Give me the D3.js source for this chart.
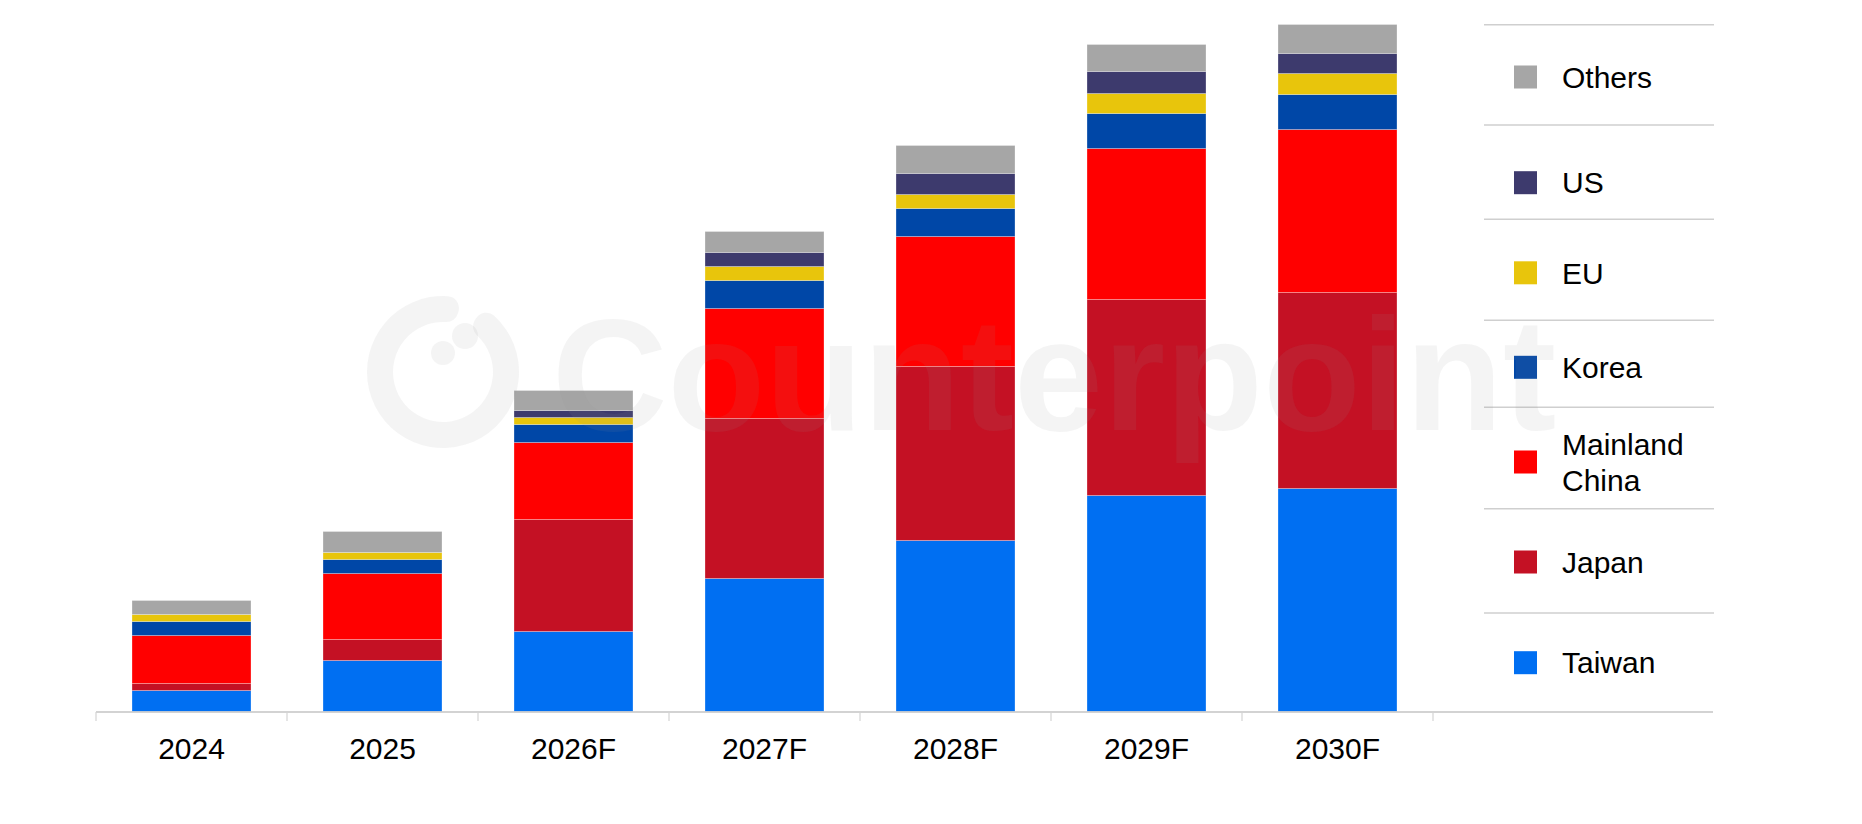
<!DOCTYPE html>
<html>
<head>
<meta charset="utf-8">
<script src="https://cdn.jsdelivr.net/npm/d3@7"></script>
<style>
  body { margin: 0; background: #fff; }
  text { font-family: "Liberation Sans", Arial, sans-serif; }
</style>
</head>
<body>
<div id="chart"></div>
<script>
// chart size
const width = 1862;
const height = 824;

// years on the x axis
const years = ["2024", "2025", "2026F", "2027F", "2028F", "2029F", "2030F"];

// values per region (no axis so units are relative)
const taiwan = [2.1, 5.1, 8.0, 13.3, 17.1, 21.6, 22.3];
const japan  = [0.7, 2.1, 11.2, 16.0, 17.4, 19.6, 19.6];
const china  = [4.8, 6.6, 7.7, 11.0, 13.0, 15.1, 16.3];
const korea  = [1.4, 1.4, 1.8, 2.8, 2.8, 3.5, 3.5];
const eu     = [0.7, 0.7, 0.7, 1.4, 1.4, 2.0, 2.1];
const us     = [0.0, 0.0, 0.7, 1.4, 2.1, 2.2, 2.0];
const others = [1.4, 2.1, 2.0, 2.1, 2.8, 2.7, 2.9];

// series names, bottom to top in the stack
const regions = ["Taiwan", "Japan", "Mainland China", "Korea", "EU", "US", "Others"];
const regionColors = ["#006ff2", "#c41124", "#ff0000", "#0047a7", "#e8c50c", "#3d3a6d", "#a6a6a6"];

// legend layout (top to bottom): separator line above each item, and swatch centre
const legendLineY = [24.7, 125, 219.3, 320.3, 407.3, 508.7, 613];
const legendItemY = [77, 182.7, 272.8, 367.3, 462, 562, 662.7];

// build rows for d3.stack
const table = years.map((y, i) => ({
  year: y,
  "Taiwan": taiwan[i],
  "Japan": japan[i],
  "Mainland China": china[i],
  "Korea": korea[i],
  "EU": eu[i],
  "US": us[i],
  "Others": others[i]
}));

const svg = d3.select("#chart")
  .append("svg")
    .attr("width", width)
    .attr("height", height);

// scales
const x = d3.scaleBand()
  .domain(years)
  .range([96, 1433])
  .paddingInner(0.377)
  .paddingOuter(0.1885);

const y = d3.scaleLinear()
  .domain([0, 70])
  .range([711.5, 11.5]);

const color = d3.scaleOrdinal()
  .domain(regions)
  .range(regionColors);

const series = d3.stack().keys(regions)(table);

// stacked bars
svg.append("g")
  .selectAll("g")
  .data(series)
  .join("g")
    .attr("fill", d => color(d.key))
  .selectAll("rect")
  .data(d => d)
  .join("rect")
    .attr("x", d => x(d.data.year))
    .attr("y", d => y(d[1]))
    .attr("width", x.bandwidth())
    .attr("height", d => y(d[0]) - y(d[1]))
    .attr("stroke", "#ffffff")
    .attr("stroke-opacity", 0.35)
    .attr("stroke-width", 0.8);

// x axis line and ticks between the categories
const axisY = 712;
const half = x.step() * x.paddingInner() / 2;
const tickXs = years.map(d => x(d) - half).concat([x(years[years.length - 1]) + x.bandwidth() + half]);

svg.append("line")
  .attr("x1", 96).attr("x2", 1713)
  .attr("y1", axisY).attr("y2", axisY)
  .attr("stroke", "#c4c4c4")
  .attr("stroke-width", 1.5);

svg.append("g")
  .selectAll("line")
  .data(tickXs)
  .join("line")
    .attr("x1", d => d).attr("x2", d => d)
    .attr("y1", axisY).attr("y2", axisY + 9)
    .attr("stroke", "#d4d4d4")
    .attr("stroke-width", 1.2);

svg.append("g")
  .selectAll("text")
  .data(years)
  .join("text")
    .attr("x", d => x(d) + x.bandwidth() / 2)
    .attr("y", 759)
    .attr("text-anchor", "middle")
    .attr("font-size", 30)
    .attr("fill", "#000")
    .text(d => d);

// legend, top to bottom
const legendOrder = regions.slice().reverse();

const legend = svg.append("g");

legend.selectAll("line")
  .data(legendOrder)
  .join("line")
    .attr("x1", 1484).attr("x2", 1714)
    .attr("y1", (d, i) => legendLineY[i]).attr("y2", (d, i) => legendLineY[i])
    .attr("stroke", "#cfcfcf")
    .attr("stroke-width", 1.5);

const item = legend.selectAll("g")
  .data(legendOrder)
  .join("g")
    .attr("transform", (d, i) => `translate(0, ${legendItemY[i]})`);

item.append("rect")
  .attr("x", 1514)
  .attr("y", -11.5)
  .attr("width", 23)
  .attr("height", 23)
  .attr("fill", d => color(d));

item.append("text")
  .attr("x", 1562)
  .attr("font-size", 30)
  .attr("fill", "#000")
  .each(function(d) {
    const words = d === "Mainland China" ? ["Mainland", "China"] : [d];
    const t = d3.select(this);
    words.forEach((w, i) => {
      t.append("tspan")
        .attr("x", 1562)
        .attr("y", (i - (words.length - 1) / 2) * 35.7 + 10.7)
        .text(w);
    });
  });

// faint Counterpoint watermark across the chart
const mark = svg.append("g")
  .attr("fill", "#979797")
  .attr("fill-opacity", 0.1)
  .style("pointer-events", "none");

mark.append("path")
  .attr("transform", "translate(443,372)")
  .attr("d", d3.arc()
    .innerRadius(50)
    .outerRadius(76)
    .cornerRadius(12)
    .startAngle(0.55)
    .endAngle(2 * Math.PI + 0.25)());

mark.append("circle")
  .attr("cx", 465)
  .attr("cy", 336)
  .attr("r", 13);

mark.append("circle")
  .attr("cx", 443)
  .attr("cy", 353)
  .attr("r", 12);

mark.append("text")
  .attr("x", 552)
  .attr("y", 430)
  .attr("font-family", "'Open Sans', sans-serif")
  .attr("font-weight", 700)
  .attr("font-size", 160)
  .text("Counterpoint");
</script>
</body>
</html>
